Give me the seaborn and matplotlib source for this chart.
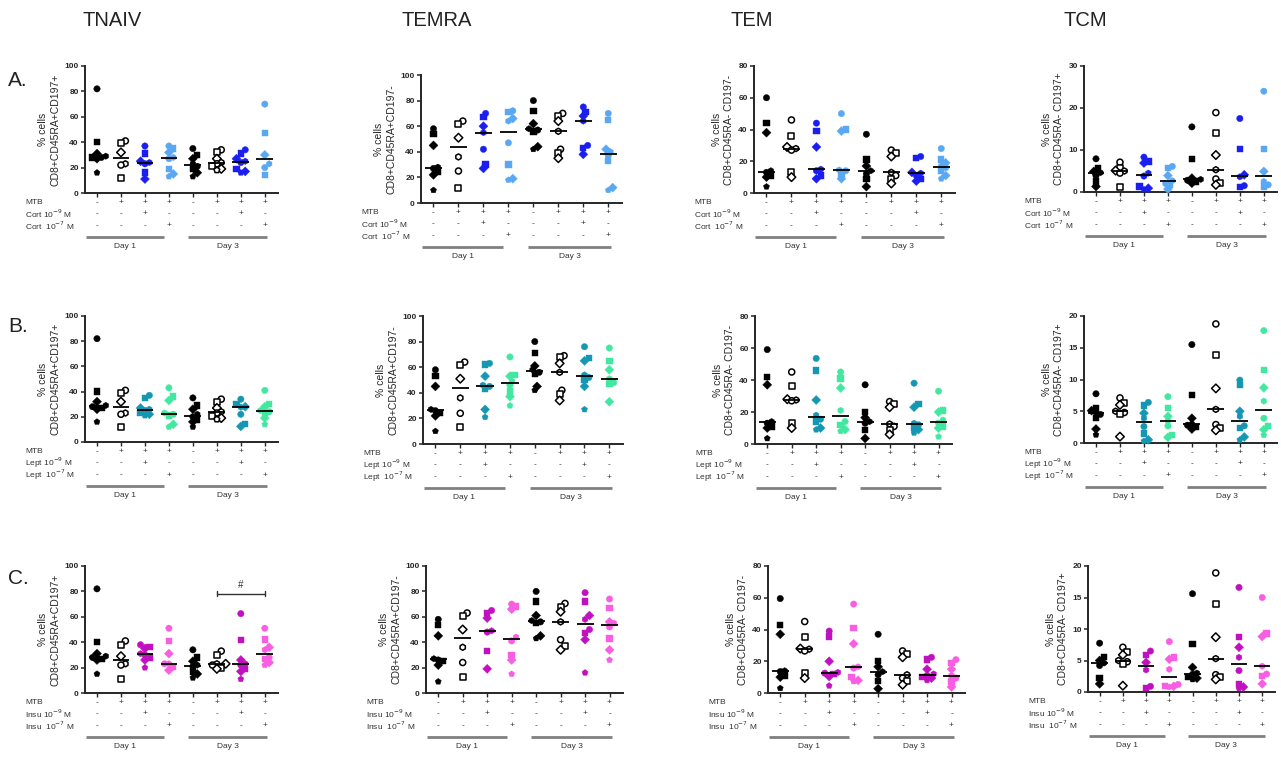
import numpy as np
import pandas as pd
import matplotlib
matplotlib.use("Agg")
import matplotlib.pyplot as plt
import seaborn as sns
from matplotlib.transforms import ScaledTranslation

sns.set_theme(style="ticks")
plt.rcParams['font.family'] = ['Liberation Sans', 'DejaVu Sans']

# ---------------- data ----------------
cell_types = ["TNAIV", "TEMRA", "TEM", "TCM"]
row_letters = ["A.", "B.", "C."]
hormones = ["Cort", "Lept", "Insu"]
groups = ["D1 ctrl", "D1 MTB", "D1 10-9", "D1 10-7", "D3 ctrl", "D3 MTB", "D3 10-9", "D3 10-7"]
mtb_row = ["-", "+", "+", "+", "-", "+", "+", "+"]
lo_row = ["-", "-", "+", "-", "-", "-", "+", "-"]
hi_row = ["-", "-", "-", "+", "-", "-", "-", "+"]
day_labels = ["Day 1", "Day 3"]
ylabels = ["% cells\nCD8+CD45RA+CD197+", "% cells\nCD8+CD45RA+CD197-",
           "% cells\nCD8+CD45RA- CD197-", "% cells\nCD8+CD45RA- CD197+"]
ymax_a = [100, 100, 80, 30]
ymax_bc = [100, 100, 80, 20]
ystep_a = [20, 20, 20, 10]
ystep_bc = [20, 20, 20, 5]

colors_cort = ["#000000", "white", "#1a1ff0", "#5ba8f2"] * 2
colors_lept = ["#000000", "white", "#1596b2", "#42e8a0"] * 2
colors_insu = ["#000000", "white", "#c010c0", "#f85ee2"] * 2

a_tnaiv = [[82, 40, 31, 29, 28, 28, 27, 16], [41, 39, 32, 23, 22, 12],
           [37, 31, 25, 24, 23, 16, 11], [37, 35, 32, 28, 27, 19, 15, 13],
           [35, 30, 27, 23, 21, 19, 16, 13], [34, 32, 27, 24, 23, 21, 19, 18],
           [34, 31, 27, 25, 24, 19, 17, 16], [70, 47, 30, 23, 20, 14]]
a_temra = [[58, 54, 45, 28, 27, 24, 22, 10], [64, 62, 51, 36, 25, 12],
           [70, 67, 60, 55, 42, 30, 27], [72, 71, 66, 64, 47, 30, 19, 18],
           [80, 72, 62, 58, 57, 56, 44, 42], [70, 68, 64, 56, 42, 39, 35],
           [75, 71, 68, 64, 45, 43, 38], [70, 65, 42, 40, 37, 33, 12, 10]]
a_tem = [[60, 44, 38, 14, 13, 11, 10, 4], [46, 36, 29, 28, 27, 13, 10],
         [44, 39, 29, 15, 14, 11, 9], [50, 40, 39, 14.5, 14, 12, 9],
         [37, 21, 17, 14, 12, 9, 4], [27, 25, 23, 13, 11, 9, 6],
         [23, 22, 13, 12.5, 11, 9, 7.5], [28, 21, 19, 17, 16, 14, 11, 9]]
a_tcm = [[7.9, 5.7, 4.9, 4.6, 3.9, 2.5, 1.3], [7.1, 5.7, 5.1, 5.0, 4.5, 1.2],
         [8.3, 7.3, 6.9, 4.5, 3.8, 1.3, 0.9, 0.6], [6.1, 5.7, 3.9, 2.7, 2.0, 1.7, 0.7],
         [15.5, 7.8, 3.3, 3.0, 2.8, 2.5, 2.1], [18.9, 14, 8.8, 5.3, 3.1, 2.1, 1.7],
         [17.5, 10.3, 4.1, 3.6, 1.5, 1.2], [24, 10.3, 4.9, 2.5, 1.7, 1.3]]

b_tnaiv = [[82, 40, 32, 29, 28, 27, 26, 16], [41, 39, 32, 23, 22, 12],
           [37, 35, 27, 26, 25, 23, 22, 21], [43, 36, 33, 23, 22, 21, 14, 12],
           [35, 29, 26, 22, 20, 18, 16, 12], [34, 32, 27, 24, 23, 21, 19, 18],
           [34, 30, 28, 27.6, 22, 14.5, 12.4], [41, 30, 28, 25, 24, 23, 19, 14]]
b_temra = [[58, 53, 45, 27, 26, 24, 22, 10], [64, 62, 51, 36, 24, 13],
           [63, 62, 53, 46, 45, 43, 27, 21], [68, 54, 53, 49, 46, 41, 37, 30],
           [80, 71, 61, 58, 56, 55, 45, 42], [69, 68, 63, 56, 42, 39, 34],
           [76, 67, 65, 54, 52, 50, 45, 27], [75, 65, 58, 51, 48, 47, 33]]
b_tem = [[59, 42, 37, 14, 13, 11, 10, 3.5], [45, 36, 28, 27.5, 27, 13, 10],
         [53.5, 46, 27.5, 18, 15.5, 14, 10, 9], [45, 41, 35, 21, 14, 12, 9, 8],
         [37, 20, 16.5, 14, 13, 8.7, 3.5], [26.5, 25, 23, 12.5, 11, 9, 6],
         [38, 25, 23, 13, 12, 10, 9, 7], [33, 21, 20, 15, 13, 11, 10, 4.6]]
b_tcm = [[7.75, 5.5, 5.1, 4.8, 4.5, 3.9, 2.2, 1.3], [7.1, 6.3, 6.0, 5.0, 4.8, 4.6, 1.0],
         [6.4, 5.9, 4.7, 3.9, 2.6, 1.5, 0.5, 0.3], [7.3, 5.5, 4.2, 3.5, 2.7, 1.3, 0.9],
         [15.5, 7.6, 3.9, 3.0, 2.8, 2.5, 2.2], [18.75, 13.9, 8.6, 5.3, 2.9, 2.4, 2.0],
         [9.9, 9.1, 5.0, 4.2, 2.7, 2.4, 0.95, 0.5], [17.7, 11.5, 8.7, 6.6, 3.9, 2.7, 2.1, 1.25]]

c_tnaiv = [[82, 40, 31, 29, 28, 27, 26, 15], [41, 38, 29, 23, 22, 11],
           [38, 36, 35, 31, 30, 28, 26, 20], [51, 41, 31, 23, 23, 20.5, 18],
           [34, 28, 25, 22, 21, 17, 15, 12], [33, 30, 23, 23, 22, 20, 19],
           [62.5, 41.5, 26, 23, 22, 19, 17, 11], [51, 42, 36, 34, 28, 27, 24, 22]]
c_temra = [[58, 53.5, 45, 27, 26, 25, 22, 9], [63, 61, 50, 36, 24, 12.5],
           [65, 63, 59, 49, 48, 33, 19], [70, 68, 66, 44, 41, 30, 26, 15],
           [80, 72, 61, 57, 56, 55, 45, 43], [70.5, 68, 64, 56, 42, 37, 34],
           [79, 72, 61, 58, 50, 47, 42, 16], [74, 67, 56, 55, 52, 43, 34, 26]]
c_tem = [[59.5, 43, 37, 14, 13.5, 11, 10, 3], [45, 35.5, 28, 27.6, 26.5, 12.5, 9.4],
         [39, 35.5, 20, 13, 12.5, 12, 10.4, 4.6], [56, 41, 31, 16.5, 15.7, 10, 8, 7.3],
         [37, 20, 16.5, 13.4, 11.5, 7.7, 2.7], [26.5, 24.6, 22.5, 11.5, 9.4, 7.3, 5.2],
         [22.5, 21, 15, 12, 11, 10, 9.4, 8], [21, 19, 15, 11, 9.4, 7.3, 3.8]]
c_tcm = [[7.75, 5.6, 5.0, 4.6, 4.2, 2.2, 1.3], [7.1, 6.3, 5.9, 5.0, 4.8, 4.5, 1.0],
         [6.5, 5.9, 4.7, 3.5, 0.9, 0.6], [8.0, 5.5, 5.2, 3.6, 1.2, 1.0, 0.9, 0.8],
         [15.6, 7.65, 3.9, 3.0, 2.8, 2.4, 2.2, 2.0], [18.9, 13.9, 8.7, 5.3, 2.75, 2.4, 2.0],
         [16.6, 8.7, 7.1, 5.5, 3.4, 1.3, 0.8, 0.6], [15, 9.3, 8.8, 4.1, 2.85, 2.5, 1.3]]

sig_groups = (5, 7)
sig_y = 78
sig_label = "#"

panels = [[a_tnaiv, a_temra, a_tem, a_tcm],
          [b_tnaiv, b_temra, b_tem, b_tcm],
          [c_tnaiv, c_temra, c_tem, c_tcm]]
row_colors = [colors_cort, colors_lept, colors_insu]

# ---------------- layout (pixels) ----------------
W, H = 1281, 761
boxes = [
    [(85, 66, 278, 193), (421, 75, 622, 203), (754, 66, 955, 193), (1084, 66, 1277, 192)],
    [(85, 316, 278, 442), (423, 316, 623, 444), (755, 316, 952, 444), (1084, 316, 1277, 443)],
    [(85, 566, 278, 693), (426, 566, 623, 693), (768, 566, 965, 693), (1088, 566, 1275, 692)],
]
title_x = [112, 437, 752, 1085]
letter_y = [80, 326, 578]
donor_markers = ['o', 's', 'D', 'h', 'o', 's', 'D', 'p', 'o']

fig = plt.figure(figsize=(W / 100, H / 100), dpi=100)
fig.patch.set_facecolor("white")


def offset(ax, px):
    return ax.get_xaxis_transform() + ScaledTranslation(0, -px / 100, fig.dpi_scale_trans)


def swarm_x(vals, py_per_unit, px_per_unit, d=4.4):
    """Deterministic horizontal spreading of overlapping points (pixel space)."""
    vals = np.asarray(vals, float)
    order = np.argsort(vals)
    placed = []
    xs = np.zeros(len(vals))
    cands = [0.0]
    for k in range(1, 12):
        cands += [k * d * 0.5, -k * d * 0.5]
    for i in order:
        y = vals[i] * py_per_unit
        for cx in cands:
            if all((cx - px) ** 2 + (y - py) ** 2 >= d * d for px, py in placed):
                break
        placed.append((cx, y))
        xs[i] = cx / px_per_unit
    return xs


for r in range(3):
    for c in range(4):
        l, t, rr, b = boxes[r][c]
        ax = fig.add_axes([l / W, 1 - b / H, (rr - l) / W, (b - t) / H])
        data = panels[r][c]
        cols = row_colors[r]
        ymax = ymax_a[c] if r == 0 else ymax_bc[c]
        ystep = ystep_a[c] if r == 0 else ystep_bc[c]
        py_per_unit = (b - t) / ymax
        px_per_unit = (rr - l) / 8.05
        for g, vals in enumerate(data):
            xs = g + swarm_x(vals, py_per_unit, px_per_unit)
            sub = pd.DataFrame({"x": xs, "value": vals,
                                "donor": [str(i) for i in range(len(vals))]})
            openm = cols[g] == "white"
            sns.scatterplot(data=sub, x="x", y="value", style="donor",
                            markers={str(i): donor_markers[i] for i in range(len(vals))},
                            color=cols[g], s=19 if openm else 21, ax=ax, legend=False,
                            edgecolor="black" if openm else cols[g],
                            linewidth=1.1 if openm else 0.3, zorder=3, clip_on=False)
            med = np.median(vals)
            ax.hlines(med, g - 0.35, g + 0.35, colors="black", lw=1.3, zorder=4)

        ax.set_ylim(0, ymax)
        ax.set_yticks(np.arange(0, ymax + 0.01, ystep))
        ax.set_xlim(-0.5, 7.55)
        ax.set_xticks(range(8))
        ax.set_xticklabels([])
        ax.set_xlabel("")
        ax.set_ylabel(ylabels[c], fontsize=7.5, labelpad=3, linespacing=1.25)
        sns.despine(ax=ax)
        for sp in ["left", "bottom"]:
            ax.spines[sp].set_linewidth(1.4)
        ax.tick_params(axis="y", labelsize=6, width=1.1, length=3, pad=1.5)
        ax.tick_params(axis="x", width=1.0, length=3)
        for lab in ax.get_yticklabels():
            lab.set_fontweight("bold")
        ax.set_facecolor("none")

        # table below axis
        row_texts = ["MTB", hormones[r] + " 10$^{-9}$ M", hormones[r] + "  10$^{-7}$ M"]
        row_vals = [mtb_row, lo_row, hi_row]
        lab_x = -0.5 - 60 / px_per_unit
        for i, dy in enumerate([9.5, 21, 33]):
            ax.text(lab_x, 0, row_texts[i], transform=offset(ax, dy),
                    ha="left", va="center", fontsize=6, color="#333333", clip_on=False)
            for g in range(8):
                ax.text(g, 0, row_vals[i][g], transform=offset(ax, dy), ha="center",
                        va="center", fontsize=6, color="#333333", clip_on=False)
        for (x0, x1), dl in zip([(-0.46, 2.8), (3.8, 7.1)], day_labels):
            ax.plot([x0, x1], [0, 0], transform=offset(ax, 43.5), color="#808080",
                    lw=2.0, clip_on=False, solid_capstyle="butt")
            ax.text((x0 + x1) / 2, 0, dl, transform=offset(ax, 53.5), ha="center",
                    va="center", fontsize=6, color="#333333", clip_on=False)

        if r == 2 and c == 0:
            g0, g1 = sig_groups
            ax.plot([g0, g1], [sig_y, sig_y], color="#333333", lw=1.0)
            ax.plot([g0, g0], [sig_y - 2, sig_y + 2], color="#333333", lw=1.0)
            ax.plot([g1, g1], [sig_y - 2, sig_y + 2], color="#333333", lw=1.0)
            ax.text((g0 + g1) / 2, sig_y + 3, sig_label, ha="center", va="bottom",
                    fontsize=7, color="#333333")

for c in range(4):
    fig.text(title_x[c] / W, 1 - 21 / H, cell_types[c], ha="center", va="center",
             fontsize=14.5, color="#222222")
for r in range(3):
    fig.text(8 / W, 1 - letter_y[r] / H, row_letters[r], ha="left", va="center",
             fontsize=15, color="#222222")

fig.savefig("out.png", dpi=100)
